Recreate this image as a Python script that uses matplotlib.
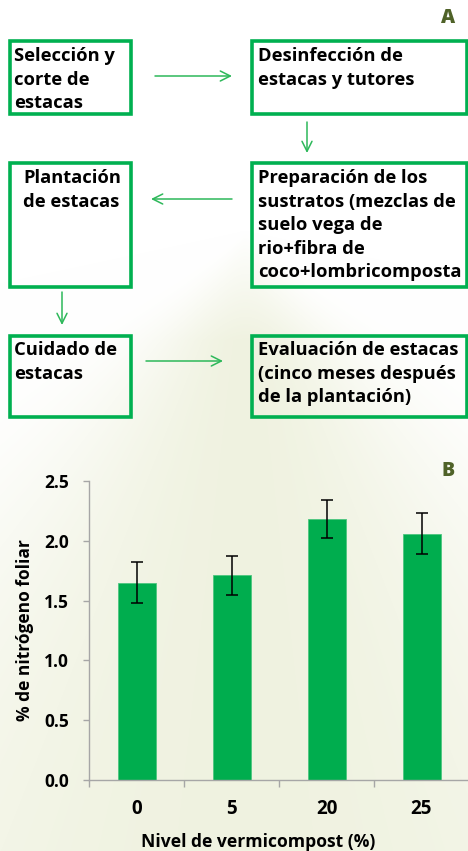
import numpy as np
import matplotlib
matplotlib.use("Agg")
import matplotlib.pyplot as plt
from matplotlib.patches import Rectangle

# Datos
niveles = ["0", "5", "20", "25"]
nitrogeno = [1.65, 1.71, 2.18, 2.06]
error = [0.17, 0.165, 0.16, 0.17]
yticks = [0.0, 0.5, 1.0, 1.5, 2.0, 2.5]

# Cajas del diagrama (texto)
pasos = [
    "Selección y\ncorte de\nestacas",
    "Desinfección de\nestacas y tutores",
    "Plantación\nde estacas",
    "Preparación de los\nsustratos (mezclas de\nsuelo vega de\nrio+fibra de\ncoco+lombricomposta",
    "Cuidado de\nestacas",
    "Evaluación de estacas\n(cinco meses después\nde la plantación)",
]

verde = "#00AD4E"
verde_borde = "#00B050"
verde_flecha = "#2DB85A"
oliva = "#4F6228"
fuente = "Open Sans"

W, H = 468, 851
fig = plt.figure(figsize=(W / 100, H / 100), dpi=100)

# Fondo con degradado suave
ax0 = fig.add_axes([0, 0, 1, 1], zorder=0)
ax0.set_xlim(0, W)
ax0.set_ylim(H, 0)
ax0.axis("off")
yy, xx = np.mgrid[0:H, 0:W]
sig = np.clip((yy - 230) * 0.8, 1, None)
w = np.exp(-((xx - 245) / sig) ** 2)
w *= np.clip((yy - 230) / 110, 0, 1)
beige = np.array([0.940, 0.950, 0.880])
img = 1 - w[..., None] * (1 - beige)
ax0.imshow(img, extent=[0, W, H, 0], aspect="auto", zorder=0)

# Diagrama de flujo (coordenadas en píxeles)
cajas = [
    (10, 41, 121, 73),
    (252, 41, 215, 73),
    (10, 163, 121, 124),
    (252, 163, 215, 124),
    (10, 336, 121, 81),
    (252, 336, 215, 81),
]
textos_xy = [(14, 47), (258, 47), (23, 169), (258, 169), (14, 341), (258, 341)]
for (x, y, bw, bh), (tx, ty), txt in zip(cajas, textos_xy, pasos):
    ax0.add_patch(Rectangle((x, y), bw, bh, fill=False, ec=verde_borde, lw=2.6, zorder=2))
    ax0.text(tx, ty, txt, ha="left", va="top", fontsize=13.2, fontweight="bold",
             family=fuente, linespacing=1.4, color="black", zorder=3)

flechas = [
    ((155, 76), (232, 76)),
    ((307, 122), (307, 153)),
    ((232, 199), (151, 199)),
    ((62, 292), (62, 325)),
    ((146, 361), (223, 361)),
]
for ini, fin in flechas:
    ax0.annotate("", xy=fin, xytext=ini,
                 arrowprops=dict(arrowstyle="->", color=verde_flecha, lw=1.1,
                                 mutation_scale=18, shrinkA=0, shrinkB=0), zorder=3)

fig.text(448 / W, 1 - 18 / H, "A", ha="center", va="center", fontsize=14,
         fontweight="heavy", family=fuente, color=oliva)
fig.text(448 / W, 1 - 471 / H, "B", ha="center", va="center", fontsize=14,
         fontweight="heavy", family=fuente, color=oliva)

# Gráfico de barras
ax = fig.add_axes([89 / W, 1 - 780 / H, 380 / W, 299 / H], zorder=1)
ax.patch.set_alpha(0)
x = np.arange(len(niveles))
ax.bar(x, nitrogeno, width=0.4, color=verde, edgecolor="#4CC67F", lw=0.6, zorder=2)
ax.errorbar(x, nitrogeno, yerr=error, fmt="none", ecolor="black", elinewidth=1.1,
            capsize=4, capthick=1.1, zorder=3)
ax.set_xlim(-0.5, 3.5)
ax.set_ylim(0, 2.5)
ax.set_yticks(yticks)
ax.set_yticklabels([f"{v:.1f}" for v in yticks])
ax.set_xticks(x)
ax.set_xticklabels(niveles)
ax.set_xticks(np.arange(-0.5, 3.6, 1), minor=True)
ax.tick_params(axis="x", which="major", length=0, pad=14)
ax.tick_params(axis="x", which="minor", length=5, color="#A6A6A6", width=1)
ax.tick_params(axis="y", length=4.5, color="#A6A6A6", width=1, pad=10)
for lab in ax.get_xticklabels():
    lab.set_fontsize(13.5)
    lab.set_fontweight("bold")
    lab.set_family(fuente)
for lab in ax.get_yticklabels():
    lab.set_fontsize(12.5)
    lab.set_fontweight("bold")
    lab.set_family(fuente)
for s in ["top", "right"]:
    ax.spines[s].set_visible(False)
for s in ["left", "bottom"]:
    ax.spines[s].set_color("#A6A6A6")
    ax.spines[s].set_linewidth(1)

fig.text(25 / W, 1 - 630 / H, "% de nitrógeno foliar", rotation=90, ha="center",
         va="center", fontsize=12.5, fontweight="bold", family=fuente)
fig.text(258 / W, 1 - 842 / H, "Nivel de vermicompost (%)", ha="center", va="center",
         fontsize=12.6, fontweight="bold", family=fuente)

fig.savefig("out.png", dpi=100)
